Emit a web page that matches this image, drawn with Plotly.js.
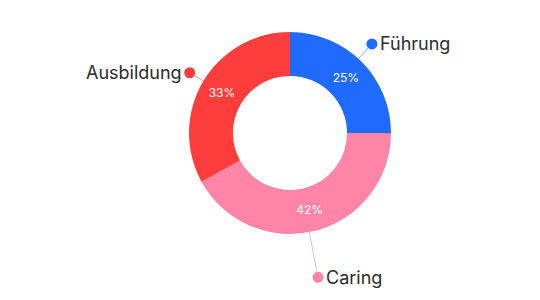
<!DOCTYPE html>
<html>
<head>
<meta charset="utf-8">
<script src="https://cdn.plot.ly/plotly-3.0.1.min.js"></script>
<style>html,body{margin:0;padding:0;background:#fff;}#chart{width:540px;height:300px;}</style>
</head>
<body>
<div id="chart"></div>
<script>
const labels = ['Führung', 'Caring', 'Ausbildung'];
const values = [25, 42, 33];
const colors = ['#1f6bff', '#ff85a8', '#ff3d3d'];
const lineColors = ['#86acff', '#f2b3c6', '#ff9a9a'];

const W = 540, H = 300;
const cx = 290, cy = 133, R = 101;
const labelR = [121, 147, 117];
const angOff = [-2.4, 3.4, 0.4];

const total = values.reduce((a, b) => a + b, 0);
const shapes = [], annotations = [];
let acc = 0;
const px = x => x / W, py = y => 1 - y / H;
values.forEach((v, i) => {
  const mid = (acc + v / 2) / total * 360 + angOff[i];
  acc += v;
  const a = mid * Math.PI / 180;
  const x0 = cx + R * Math.sin(a), y0 = cy - R * Math.cos(a);
  const x1 = cx + labelR[i] * Math.sin(a), y1 = cy - labelR[i] * Math.cos(a);
  shapes.push({type: 'line', xref: 'paper', yref: 'paper', x0: px(x0), y0: py(y0), x1: px(x1), y1: py(y1),
    line: {color: lineColors[i], width: 1}});
  const dr = 5.5;
  shapes.push({type: 'circle', xref: 'paper', yref: 'paper', x0: px(x1 - dr), x1: px(x1 + dr), y0: py(y1 + dr), y1: py(y1 - dr),
    fillcolor: colors[i], line: {width: 0}});
  const right = Math.sin(a) >= 0;
  annotations.push({xref: 'paper', yref: 'paper', x: px(x1 + (right ? 6 : -6)), y: py(y1), text: labels[i],
    showarrow: false, xanchor: right ? 'left' : 'right', yanchor: 'middle',
    font: {family: 'Inter, Open Sans, sans-serif', size: 18, color: '#2b2b2b'}});
});

const data = [{
  type: 'pie',
  labels: labels,
  values: values,
  sort: false,
  direction: 'clockwise',
  rotation: 0,
  hole: 0.565,
  marker: {colors: colors, line: {width: 0}},
  textinfo: 'percent',
  textposition: 'inside',
  insidetextorientation: 'horizontal',
  texttemplate: '%{percent:.0%}',
  textfont: {family: 'Inter, Open Sans, sans-serif', size: 12, color: '#ffffff'},
  domain: {x: [(cx - R) / W, (cx + R) / W], y: [1 - (cy + R) / H, 1 - (cy - R) / H]},
  showlegend: false,
  hoverinfo: 'none'
}];

const layout = {
  width: W, height: H,
  margin: {l: 0, r: 0, t: 0, b: 0},
  paper_bgcolor: '#ffffff',
  showlegend: false,
  shapes: shapes,
  annotations: annotations
};
Plotly.newPlot('chart', data, layout, {staticPlot: true, displayModeBar: false});
</script>
</body>
</html>
